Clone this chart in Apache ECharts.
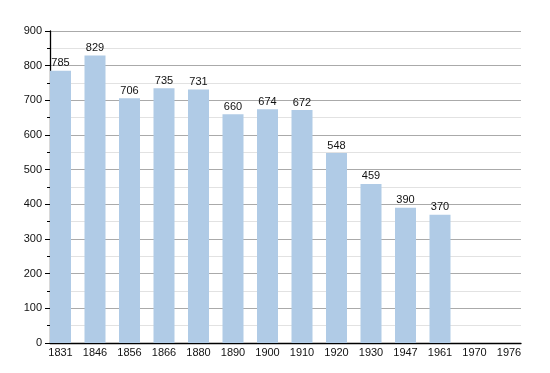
<!DOCTYPE html>
<html><head><meta charset="utf-8">
<script src="https://cdn.jsdelivr.net/npm/echarts@6/dist/echarts.min.js"></script>
<style>html,body{margin:0;padding:0;background:#fff}#c{width:550px;height:373px}</style>
</head><body><div id="c"></div>
<script>
const years = ['1831','1846','1856','1866','1880','1890','1900','1910','1920','1930','1947','1961','1970','1976'];
const population = [785,829,706,735,731,660,674,672,548,459,390,370,null,null];
const yMin = 0, yMax = 900, yStep = 100;

const font = 'Liberation Sans, Arial, sans-serif';
const chart = echarts.init(document.getElementById('c'), null, {renderer:'canvas'});
chart.setOption({
  animation:false,
  backgroundColor:'#fff',
  grid:[
    {left:50, right:29, top:31, bottom:30},
    {left:43.25, right:23.75, top:31, bottom:30}
  ],
  xAxis:[
    {gridIndex:0, type:'category', data:years, boundaryGap:true,
     axisLine:{show:true, lineStyle:{color:'#000', width:1.3}},
     axisTick:{show:false}, axisLabel:{show:false}, splitLine:{show:false}},
    {gridIndex:1, type:'category', data:years, boundaryGap:true,
     axisLine:{show:false}, axisTick:{show:false},
     axisLabel:{show:true, color:'#111', fontSize:11, fontFamily:font, margin:4, interval:0},
     splitLine:{show:false}}
  ],
  yAxis:[
    {gridIndex:0, type:'value', min:yMin, max:yMax, interval:yStep,
     axisLine:{show:true, lineStyle:{color:'#000', width:1.3}},
     axisTick:{show:true, length:5, lineStyle:{color:'#000'}},
     minorTick:{show:true, splitNumber:2, length:3, lineStyle:{color:'#000'}},
     axisLabel:{color:'#111', fontSize:11, fontFamily:font, margin:8},
     splitLine:{show:true, lineStyle:{color:'#aaaaaa', width:1}},
     minorSplitLine:{show:true, lineStyle:{color:'#e2e2e2', width:1}}},
    {gridIndex:1, type:'value', min:yMin, max:yMax, interval:yStep, show:false}
  ],
  series:[{
    type:'bar', xAxisIndex:1, yAxisIndex:1, data:population, barWidth:21,
    itemStyle:{color:'#b0cbe6'},
    label:{show:true, position:'top', distance:2, color:'#111', fontSize:11, fontFamily:font}
  }]
});
</script></body></html>
